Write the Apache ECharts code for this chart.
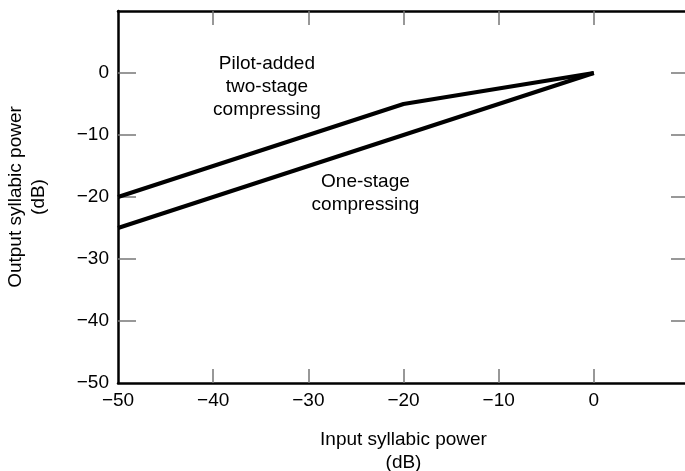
<!DOCTYPE html>
<html>
<head>
<meta charset="utf-8">
<script src="https://cdn.jsdelivr.net/npm/echarts@6/dist/echarts.min.js"></script>
<style>
  html, body { margin: 0; padding: 0; background: #fff; }
  #chart { width: 685px; height: 471px; }
</style>
</head>
<body>
<div id="chart"></div>
<script>
var myChart = echarts.init(document.getElementById('chart'));

// input power (dB) vs output power (dB)
var twoStageX = [-50, -20, 0];
var twoStageY = [-20, -5, 0];
var oneStageX = [-50, 0];
var oneStageY = [-25, 0];

var xTicks = [-50, 10, 10]; // min, max, interval
var yTicks = [-50, 10, 10];
// inner tick marks (ends are covered by the frame)
var xTickMarks = [-40, -30, -20, -10, 0];
var yTickMarks = [-40, -30, -20, -10, 0];

// annotation text and where it sits (data coords)
var notes = [
    {text: 'Pilot-added\ntwo-stage\ncompressing', x: -34.35, y: -2.3},
    {text: 'One-stage\ncompressing', x: -24, y: -19.4}
];

var font = 'Liberation Sans';
var fs = 19;

function pairs(xs, ys) {
    return xs.map(function (x, i) { return [x, ys[i]]; });
}
function minus(v) {
    return v > 0 ? '' : String(v).replace('-', '\u2212');
}

var lineStyleAxis = {color: '#000', width: 2.5};
var tickStyle = {color: '#777', width: 1.5};

var option = {
    animation: false,
    grid: {left: 118, top: 11, width: 571, height: 372, outerBoundsMode: 'none'},
    xAxis: [
        {
            type: 'value', position: 'bottom',
            min: xTicks[0], max: xTicks[1], interval: xTicks[2],
            name: 'Input syllabic power\n(dB)',
            nameLocation: 'middle', nameGap: 45,
            nameTextStyle: {fontFamily: font, fontSize: fs, color: '#000', lineHeight: 23},
            axisLine: {onZero: false, lineStyle: lineStyleAxis},
            axisTick: {inside: true, length: 14, lineStyle: tickStyle, customValues: xTickMarks},
            axisLabel: {fontFamily: font, fontSize: fs, color: '#000', margin: 8, formatter: minus},
            splitLine: {show: false}
        },
        {
            type: 'value', position: 'top',
            min: xTicks[0], max: xTicks[1], interval: xTicks[2],
            axisLine: {onZero: false, lineStyle: lineStyleAxis},
            axisTick: {inside: true, length: 14, lineStyle: tickStyle, customValues: xTickMarks},
            axisLabel: {show: false},
            splitLine: {show: false}
        }
    ],
    yAxis: [
        {
            type: 'value', position: 'left',
            min: yTicks[0], max: yTicks[1], interval: yTicks[2],
            name: 'Output syllabic power\n(dB)',
            nameLocation: 'middle', nameGap: 68,
            nameTextStyle: {fontFamily: font, fontSize: fs, color: '#000', lineHeight: 23},
            axisLine: {onZero: false, lineStyle: lineStyleAxis},
            axisTick: {inside: true, length: 18, lineStyle: tickStyle, customValues: yTickMarks},
            axisLabel: {fontFamily: font, fontSize: fs, color: '#000', margin: 9, formatter: minus},
            splitLine: {show: false}
        },
        {
            type: 'value', position: 'right',
            min: yTicks[0], max: yTicks[1], interval: yTicks[2],
            axisLine: {onZero: false, lineStyle: lineStyleAxis},
            axisTick: {inside: true, length: 18, lineStyle: tickStyle, customValues: yTickMarks},
            axisLabel: {show: false},
            splitLine: {show: false}
        }
    ],
    series: [
        {
            name: 'two-stage', type: 'line', data: pairs(twoStageX, twoStageY),
            showSymbol: false, lineStyle: {color: '#000', width: 4}
        },
        {
            name: 'one-stage', type: 'line', data: pairs(oneStageX, oneStageY),
            showSymbol: false, lineStyle: {color: '#000', width: 4}
        },
        {
            name: 'notes', type: 'scatter', symbolSize: 0,
            itemStyle: {opacity: 1},
            data: notes.map(function (n) { return {value: [n.x, n.y], name: n.text}; }),
            label: {
                show: true, position: 'inside', formatter: '{b}',
                fontFamily: font, fontSize: fs, color: '#000', lineHeight: 23, align: 'center'
            },
            silent: true
        }
    ]
};

myChart.setOption(option);
</script>
</body>
</html>
